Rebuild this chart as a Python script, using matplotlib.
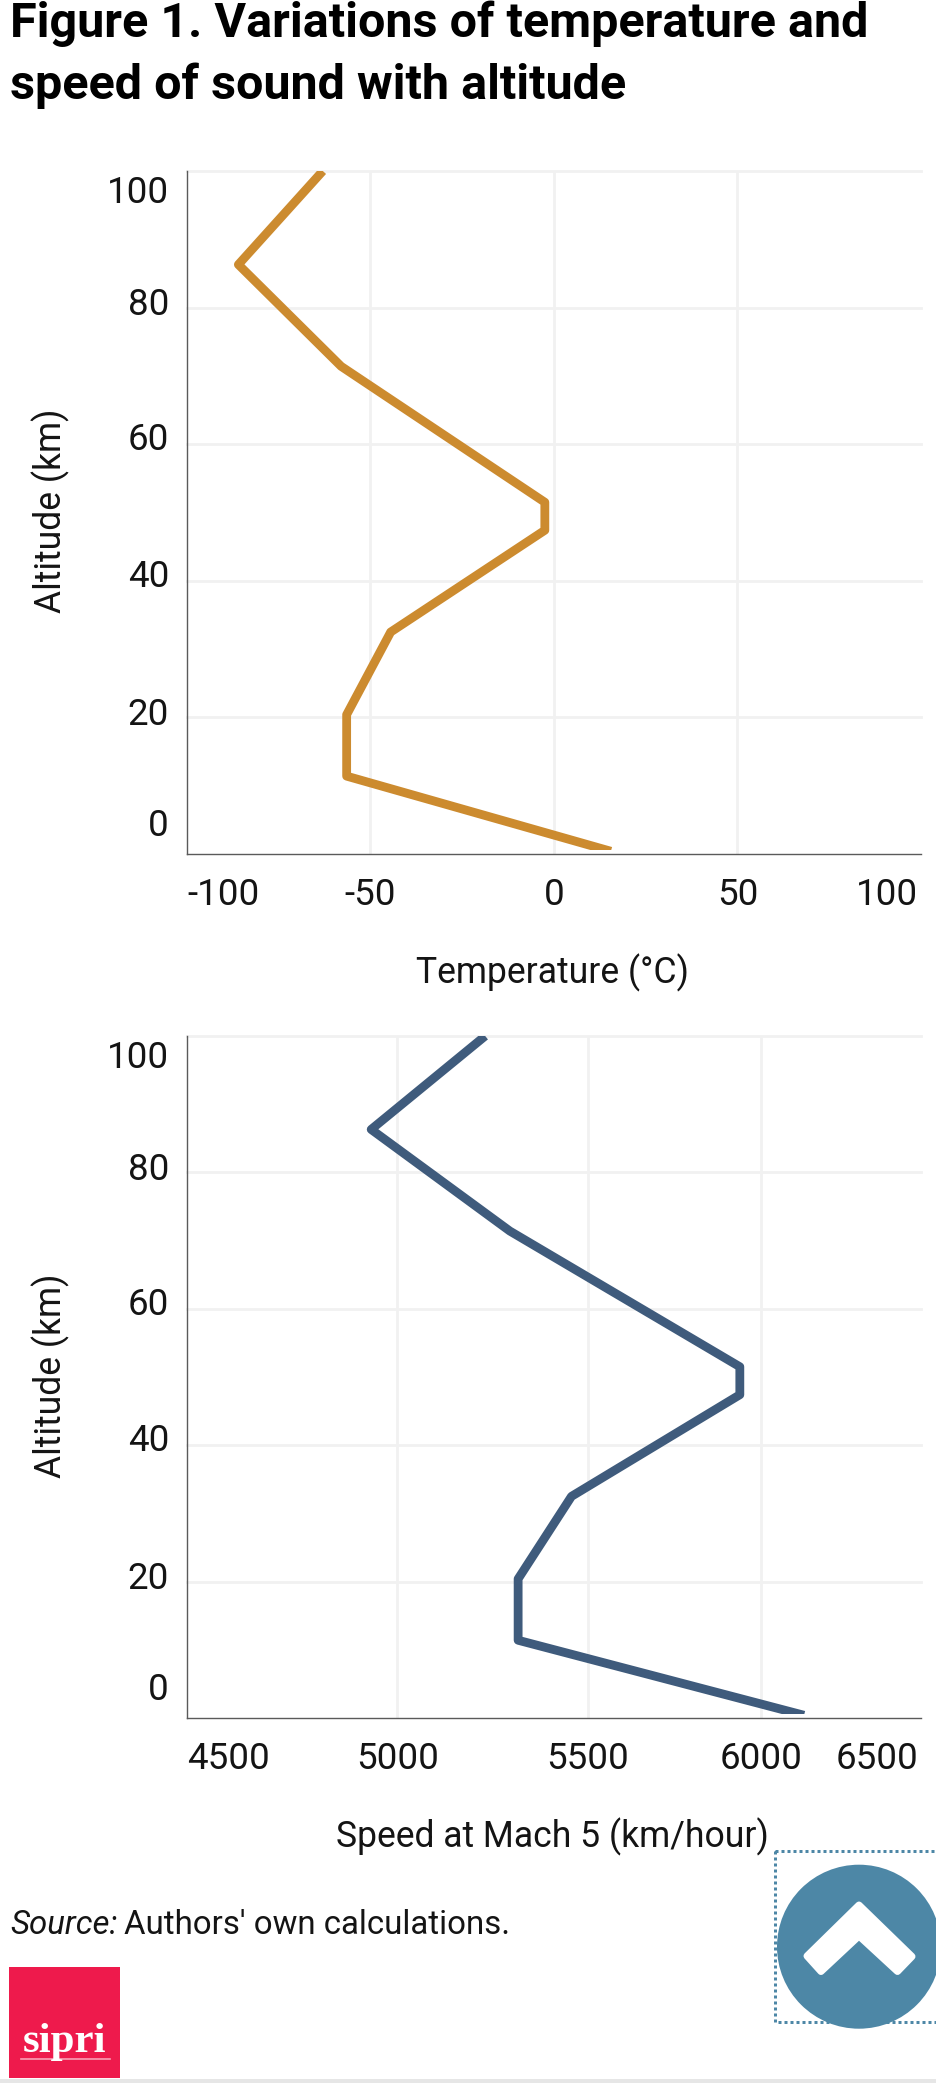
import matplotlib
matplotlib.use("Agg")
import matplotlib.pyplot as plt
from matplotlib.patches import Rectangle, Circle, Polygon
from matplotlib.transforms import Affine2D, blended_transform_factory
from matplotlib.ticker import NullLocator, NullFormatter

plt.rcParams['font.family'] = ['Roboto', 'DejaVu Sans']

altitude_km = [100, 86.3, 71.4, 51.5, 47.4, 32.5, 20.4, 11.4, 0.4]
temperature_c = [-63, -86, -58, -2.5, -2.5, -44.5, -56.5, -56.5, 15.5]
speed_kmh = [5225, 4935, 5290, 5936, 5936, 5456, 5312, 5312, 6130]
alt_ticks = [0, 20, 40, 60, 80, 100]
temp_ticks = [-100, -50, 0, 50, 100]
speed_ticks = [4500, 5000, 5500, 6000, 6500]

W, H = 937, 2085
TEXT = '#141414'
ORANGE = '#CC8B2F'
NAVY = '#3F5B7C'
GRID = '#F1F1F1'
AXIS = '#5A5A5A'
TEAL = '#4D87A6'
FS_TICK = 26.5
FS_LABEL = 25.6
PX = 72 / 100

fig = plt.figure(figsize=(W / 100, H / 100), dpi=100, facecolor='white')


def make_axes(top, bottom, xs, color, xscale, xlim, xticks, xlabel):
    ax = fig.add_axes([187 / W, 1 - bottom / H, (921 - 187) / W, (bottom - top) / H])
    ax.set_xscale(xscale)
    ax.set_xlim(*xlim)
    ax.set_ylim(0, 100)
    ax.set_xticks(xticks, [str(t) for t in xticks])
    ax.set_yticks(alt_ticks, [str(t) for t in alt_ticks])
    ax.xaxis.set_minor_locator(NullLocator())
    ax.xaxis.set_minor_formatter(NullFormatter())
    ax.set_axisbelow(True)
    ax.grid(True, color=GRID, linewidth=2.8 * PX)
    ax.tick_params(length=0, pad=0, labelsize=FS_TICK, labelcolor=TEXT)
    for s in ('top', 'right'):
        ax.spines[s].set_visible(False)
    for s in ('left', 'bottom'):
        ax.spines[s].set_color(AXIS)
        ax.spines[s].set_linewidth(1.4 * PX)

    line, = ax.plot(xs, altitude_km, color=color, linewidth=8.8 * PX,
                    solid_joinstyle='round', solid_capstyle='butt', zorder=3)
    clip = Rectangle((0, 0.6), 1, 99.4,
                     transform=blended_transform_factory(ax.transAxes, ax.transData))
    line.set_clip_path(clip)

    xt = ax.xaxis.get_major_ticks()
    for i, t in enumerate(xt):
        lab = t.label1
        lab.set_va('baseline')
        if i == 0:
            lab.set_ha('left')
            dx = 0
        elif i == len(xt) - 1:
            lab.set_ha('right')
            dx = 918 - ax.transData.transform((xticks[-1], 0))[0]
            t.gridline.set_visible(False)
        else:
            lab.set_ha('center')
            dx = 0
        lab.set_transform(lab.get_transform() + Affine2D().translate(dx, -51))
    xt[0].gridline.set_visible(False)

    yt = ax.yaxis.get_major_ticks()
    offsets = {0: 18.5, 20: -7.5, 40: -6, 60: -6, 80: -7.5, 100: -31.5}
    for v, t in zip(alt_ticks, yt):
        lab = t.label1
        lab.set_ha('right')
        lab.set_va('baseline')
        lab.set_transform(lab.get_transform() + Affine2D().translate(169 - 187, offsets[v]))
        t.gridline.set_clip_on(False)
    yt[0].gridline.set_visible(False)

    fig.text(552.5 / W, 1 - (bottom + 129) / H, xlabel, fontsize=FS_LABEL, color=TEXT,
             ha='center', va='baseline')
    fig.text(51 / W, 1 - (top + 340) / H, 'Altitude (km)', fontsize=FS_LABEL, color=TEXT,
             rotation=90, ha='center', va='center', rotation_mode='anchor')
    return ax


make_axes(171, 854, temperature_c, ORANGE, 'linear', (-100, 99.5), temp_ticks, 'Temperature (°C)')
make_axes(1036, 1718, speed_kmh, NAVY, 'log', (4500, 6500), speed_ticks, 'Speed at Mach 5 (km/hour)')

# overlay in pixel coordinates for page furniture
ov = fig.add_axes([0, 0, 1, 1], facecolor='none')
ov.set_xlim(0, W)
ov.set_ylim(H, 0)
ov.axis('off')

ov.text(10, 37, 'Figure 1. Variations of temperature and', fontsize=34.9, fontweight='bold',
        color='black', ha='left', va='baseline')
ov.text(10, 99, 'speed of sound with altitude', fontsize=34.9, fontweight='bold',
        color='black', ha='left', va='baseline')

src = ov.text(10, 1934, 'Source:', fontsize=23.8, style='italic', color=TEXT, ha='left', va='baseline')
fig.canvas.draw()
ext = src.get_window_extent()
ov.text(ext.x1 + 7, 1934, "Authors' own calculations.", fontsize=23.8, color=TEXT, ha='left', va='baseline')

# logo
ov.add_patch(Rectangle((9.5, 1967), 111, 111, facecolor='#EE1A4C', edgecolor='none'))
ov.text(65, 2052, 'sipri', fontsize=31, fontweight='bold', family='Liberation Serif',
        color='white', ha='center', va='baseline')
ov.plot([21, 110], [2058.5, 2058.5], color='#F8A0B5', linewidth=1.2)

# back-to-top button
ov.add_patch(Rectangle((775.5, 1851), 170, 171, facecolor='none', edgecolor=TEAL,
                       linewidth=3 * PX, linestyle=(0, (1, 1)), clip_on=True))
ov.add_patch(Circle((859, 1946.7), 82, facecolor=TEAL, edgecolor='none'))
ov.add_patch(Polygon([(859, 1905), (912, 1956.5), (897.5, 1971.5), (859, 1936),
                      (821, 1971.5), (807, 1956)], closed=True, facecolor='white',
                     edgecolor='white', linewidth=7 * PX, joinstyle='round'))

# bottom rule
ov.add_patch(Rectangle((0, 2079), W, 4, facecolor='#E6E6E6', edgecolor='none'))

fig.savefig('out.png', dpi=100, facecolor='white')
